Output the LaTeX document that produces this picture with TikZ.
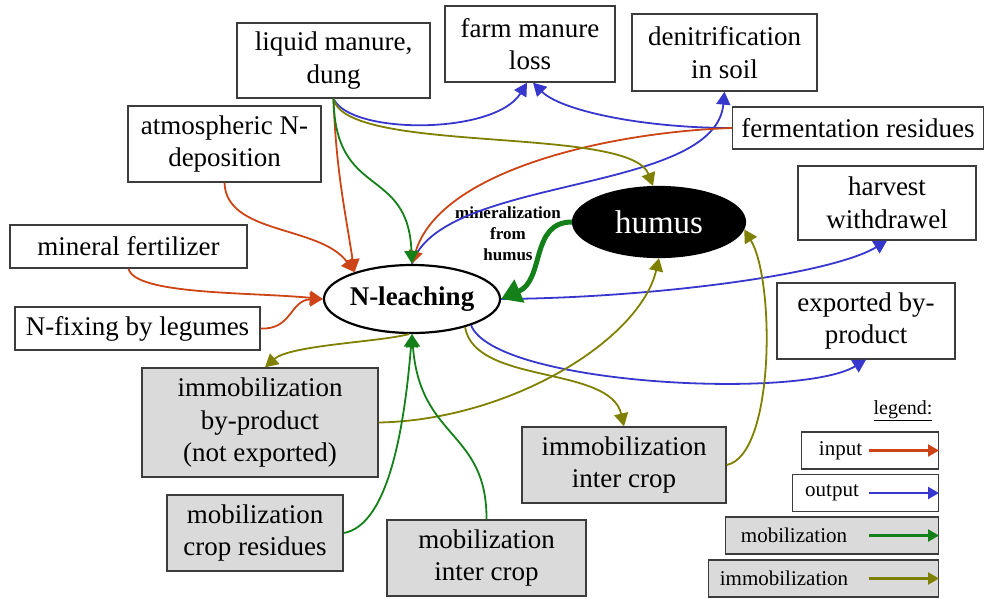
\documentclass[tikz,border=0pt]{standalone}
\usepackage{fontspec}
\setmainfont{Liberation Serif}
\usetikzlibrary{arrows.meta, positioning, shapes.geometric}
\definecolor{inputcol}{RGB}{205,68,22}
\definecolor{outputcol}{RGB}{55,55,205}
\definecolor{mobcol}{RGB}{20,128,25}
\definecolor{immobcol}{RGB}{128,128,0}
\definecolor{boxgray}{RGB}{218,218,218}
\definecolor{linegray}{RGB}{60,60,60}
\tikzset{
  box/.style      = {draw=linegray, line width=1.3pt, fill=white, align=center,
                     inner sep=2pt, font=\fontsize{27}{32.5}\selectfont},
  gbox/.style     = {box, fill=boxgray},
  pool/.style     = {ellipse, draw=black, line width=2.2pt, inner sep=0pt,
                     minimum width=170pt, minimum height=68pt},
  flow/.style     = {-{Triangle[length=13pt,width=14pt]}, line width=1.8pt},
  inarr/.style    = {flow, inputcol},
  outarr/.style   = {flow, outputcol},
  mobarr/.style   = {flow, mobcol},
  immobarr/.style = {flow, immobcol},
  legbox/.style   = {draw=linegray, line width=1.3pt, minimum height=37pt, anchor=east},
  legtext/.style  = {font=\fontsize{21}{25}\selectfont},
}

\begin{document}
\begin{tikzpicture}[x=1pt, y=-1pt]
  \useasboundingbox (0,0) rectangle (984,598);

  % pools
  \node[pool, fill=white, font=\fontsize{27}{32}\selectfont\bfseries] (leach) at (412,299) {N-leaching};
  \node[pool, fill=black, text=white, minimum width=172pt, minimum height=70pt,
        font=\fontsize{33}{38}\selectfont] (humus) at (659,222) {humus};
  \node[align=center, font=\fontsize{17}{21}\selectfont\bfseries] (minlabel) at (508,234)
    {mineralization\\from\\humus};

  % white boxes
  \node[box, minimum width=193pt, minimum height=75pt] (dung) at (333.5,60.5) {liquid manure,\\dung};
  \node[box, minimum width=170pt, minimum height=76pt] (loss) at (530,44) {farm manure\\loss};
  \node[box, minimum width=185pt, minimum height=77pt] (denit) at (724.5,52.5) {denitrification\\in soil};
  \node[box, minimum width=193pt, minimum height=76pt] (atmo) at (224.5,144) {atmospheric N-\\deposition};
  \node[box, minimum width=251pt, minimum height=42pt] (ferm) at (858,128) {fermentation residues};
  \node[box, minimum width=178pt, minimum height=74pt] (harvest) at (887,203) {harvest\\withdrawel};
  \node[box, minimum width=237pt, minimum height=43pt] (mineral) at (128.5,246.5) {mineral fertilizer};
  \node[box, minimum width=245pt, minimum height=43pt] (fixing) at (137.5,328.5) {N-fixing by legumes};
  \node[box, minimum width=178pt, minimum height=76pt] (exported) at (866,321) {exported by-\\product};

  % grey boxes
  \node[gbox, minimum width=236pt, minimum height=109pt] (imby) at (260,422.5) {immobilization\\by-product\\(not exported)};
  \node[gbox, minimum width=204pt, minimum height=76pt] (iminter) at (624,465) {immobilization\\inter crop};
  \node[gbox, minimum width=176pt, minimum height=76pt] (mocrop) at (255,533) {mobilization\\crop residues};
  \node[gbox, minimum width=199pt, minimum height=76pt] (mointer) at (486.5,558) {mobilization\\inter crop};

  % outputs
  \draw[outarr] (dung.south) .. controls (350,135) and (495,135) .. ([xshift=-3pt]loss.south);
  \draw[outarr] (ferm.west) .. controls (640,128) and (560,110) .. ([xshift=3pt]loss.south);
  \draw[outarr] (leach.north) .. controls (440,175) and (715,195) .. (denit.south);
  \draw[outarr] (leach.east) .. controls (650,298) and (830,275) .. (harvest.south);
  \draw[outarr] (leach.336) .. controls (495,385) and (800,400) .. (exported.south);

  % inputs
  \draw[inarr] (atmo.south) .. controls (226,235) and (320,225) .. (leach.155);
  \draw[inarr] (dung.south) .. controls (336,170) and (345,210) .. (leach.155);
  \draw[inarr] (ferm.west) .. controls (610,132) and (440,170) .. (leach.north);
  \draw[inarr] (mineral.south) .. controls (135,295) and (250,292) .. (leach.west);
  \draw[inarr] (fixing.east) .. controls (292,330) and (290,300) .. (leach.west);

  % immobilization
  \draw[immobarr] (dung.south) .. controls (345,155) and (630,125) .. ([xshift=-6pt]humus.north);
  \draw[immobarr] (leach.265) .. controls (380,342) and (290,345) .. ([xshift=5pt]imby.north);
  \draw[immobarr] (leach.332) .. controls (475,385) and (610,365) .. (iminter.north);
  \draw[immobarr] (imby.east) .. controls (510,420) and (640,340) .. (humus.south);
  \draw[immobarr] (iminter.east) .. controls (775,455) and (775,280) .. (humus.355);

  % mobilization
  \draw[mobarr] (dung.south) .. controls (335,200) and (408,165) .. (leach.north);
  \draw[mobarr] (mocrop.east) .. controls (390,525) and (405,420) .. (leach.south);
  \draw[mobarr] (mointer.north) .. controls (487,430) and (420,440) .. (leach.south);
  \draw[mobcol, line width=5pt, -{Triangle[length=20pt,width=24pt]}]
    (humus.west) .. controls (530,222) and (545,280) .. (leach.east);

  % legend
  \node[font=\fontsize{20}{24}\selectfont] (legtitle) at (903,411) {\underline{legend:}};
  \foreach \nm/\cy/\lw/\fc/\ac/\tx/\tcx in {in/450.5/137pt/white/inputcol/input/840.5,
      out/493/146pt/white/outputcol/output/832,
      mob/535.5/213pt/boxgray/mobcol/mobilization/794,
      immob/578.5/230pt/boxgray/immobcol/immobilization/784} {
    \node[legbox, fill=\fc, minimum width=\lw] (lg\nm) at (939,\cy) {};
    \node[legtext] (lg\nm txt) at (\tcx,\cy) {\tx};
    \coordinate (lg\nm a) at (869,\cy);
    \draw[\ac, line width=2.2pt, -{Triangle[length=11pt,width=12pt]}] (lg\nm a) -- (lg\nm.east);
  }

\end{tikzpicture}
\end{document}
